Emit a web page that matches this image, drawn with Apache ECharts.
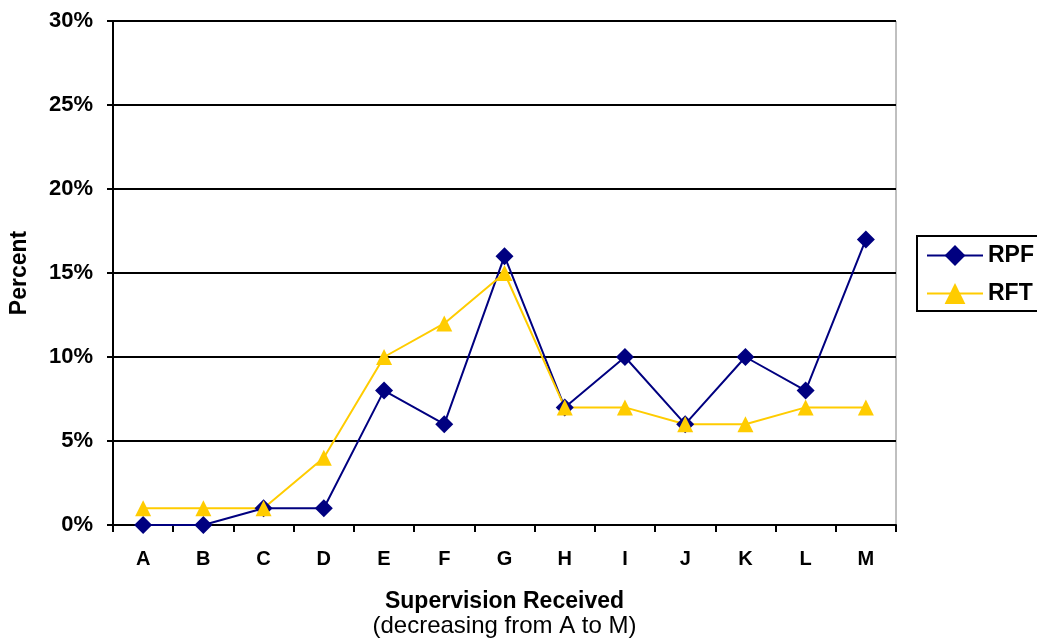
<!DOCTYPE html>
<html><head><meta charset="utf-8">
<script src="https://cdn.jsdelivr.net/npm/echarts@6/dist/echarts.min.js"></script>
<style>html,body{margin:0;padding:0;background:#fff}#c{width:1037px;height:643px}</style>
</head><body><div id="c"></div>
<script>
const categories = ['A','B','C','D','E','F','G','H','I','J','K','L','M'];
const rpf = [0,0,1,1,8,6,16,7,10,6,10,8,17];
const rft = [1,1,1,4,10,12,15,7,7,6,6,7,7];
const yTicks = [0,5,10,15,20,25,30];

const chart = echarts.init(document.getElementById('c'));
const F = '"Liberation Sans", Arial, sans-serif';
chart.setOption({
  animation: false,
  grid: {left: 110, right: 141, top: 21, bottom: 117, show: true, borderColor: '#808080', borderWidth: 1},
  legend: {
    orient: 'vertical', left: 917, top: 236, itemWidth: 56, itemHeight: 26, itemGap: 15,
    padding: [8, 40, 6, 9], borderColor: '#000', borderWidth: 2,
    lineStyle: {width: 2},
    textStyle: {fontFamily: F, fontSize: 23, fontWeight: 'bold', color: '#000'},
    data: ['RPF', 'RFT']
  },
  xAxis: {
    type: 'category', data: categories, boundaryGap: true,
    axisLine: {lineStyle: {color: '#000', width: 2}},
    axisTick: {show: true, length: 7, lineStyle: {color: '#000', width: 2}},
    axisLabel: {fontFamily: F, fontSize: 20, fontWeight: 'bold', color: '#000', margin: 24},
    name: '{a|Supervision Received}\n{b|(decreasing from A to M)}',
    nameLocation: 'middle', nameGap: 65,
    nameTextStyle: {rich: {
      a: {fontFamily: F, fontSize: 23, fontWeight: 'bold', color: '#000', lineHeight: 24},
      b: {fontFamily: F, fontSize: 24, color: '#000', lineHeight: 24}
    }}
  },
  yAxis: {
    type: 'value', min: 0, max: 30, interval: 5,
    axisLine: {show: true, lineStyle: {color: '#000', width: 2}},
    axisTick: {show: true, length: 6, lineStyle: {color: '#000', width: 2}},
    splitLine: {lineStyle: {color: '#000', width: 2}},
    axisLabel: {fontFamily: F, fontSize: 22, fontWeight: 'bold', color: '#000', margin: 20,
      formatter: v => yTicks.includes(v) ? v + '%' : ''},
    name: 'Percent', nameLocation: 'middle', nameGap: 82, nameRotate: 90,
    nameTextStyle: {fontFamily: F, fontSize: 23, fontWeight: 'bold', color: '#000'}
  },
  series: [
    {name: 'RPF', type: 'line', data: rpf, symbol: 'diamond', symbolSize: 18,
     itemStyle: {color: '#000080'}, lineStyle: {color: '#000080', width: 2}},
    {name: 'RFT', type: 'line', data: rft, symbol: 'triangle', symbolSize: 16,
     itemStyle: {color: '#FFCC00'}, lineStyle: {color: '#FFCC00', width: 2}}
  ]
});
</script></body></html>
